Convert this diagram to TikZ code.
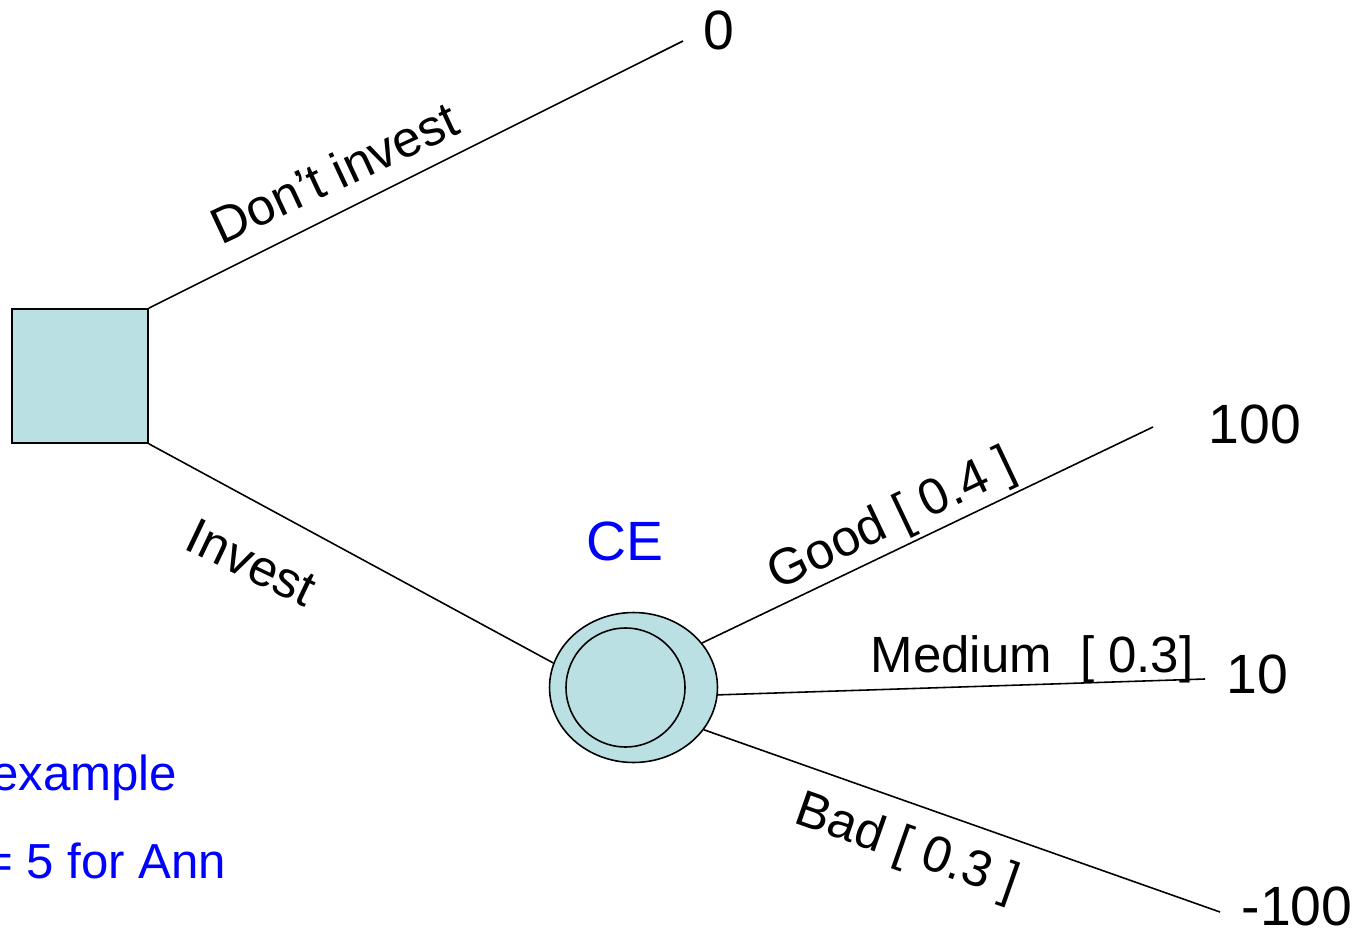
\documentclass[tikz,border=0pt]{standalone}
\usepackage{fontspec}
\setmainfont{Liberation Sans}
\usetikzlibrary{shapes.geometric}
\definecolor{nodefill}{RGB}{187,224,227}

\begin{document}
\begin{tikzpicture}[x=0.02cm,y=-0.02cm,line width=0.9pt,
    decision/.style={rectangle,draw,fill=nodefill,minimum width=2.72cm,minimum height=2.68cm,inner sep=0pt},
    chance/.style={ellipse,draw,fill=nodefill,minimum width=3.36cm,minimum height=3cm,inner sep=0pt},
    chanceinner/.style={circle,draw,minimum size=2.38cm,inner sep=0pt},
    branch/.style={font=\fontsize{29}{34}\selectfont,inner sep=0pt,anchor=base},
    payoff/.style={font=\fontsize{31.5}{38}\selectfont,inner sep=0pt,anchor=base},
    note/.style={text=blue,font=\fontsize{28}{34}\selectfont,inner sep=0pt}]
    \useasboundingbox (0,0) rectangle (1355,929);
    \clip (0,0) rectangle (1355,929);

    \node[decision] (dec) at (80,376) {};
    \node[chance] (ce) at (633.5,687.5) {};
    \node[chanceinner] (cein) at (625.5,687.5) {};
    \node[note,anchor=base,font=\fontsize{31.5}{38}\selectfont] (celbl) at (625,560) {CE};

    \coordinate (endno) at (683,41);
    \coordinate (endgood) at (1153,427);
    \coordinate (endmed) at (1205,679);
    \coordinate (endbad) at (1220,912);

    \node[payoff] (pno) at (719,50) {0};
    \node[payoff] (pgood) at (1255,443) {100};
    \node[payoff] (pmed) at (1257,693) {10};
    \node[payoff] (pbad) at (1297,925) {-100};

    \draw (dec.north east) -- (endno);
    \draw (dec.south east) -- (ce.163);
    \draw (ce.33) -- (endgood);
    \draw (ce.355) -- (endmed);
    \draw (ce.329) -- (endbad);

    \node[branch,rotate=25] (lno) at (342,189) {Don’t invest};
    \node[branch,rotate=-25.5] (linv) at (244,578) {Invest};
    \node[branch,rotate=25.4] (lgood) at (898,533) {Good [ 0.4 ]};
    \node[branch] (lmed) at (1032,672) {Medium\ \ [ 0.3]};
    \node[branch,rotate=-19.4] (lbad) at (902,861) {Bad [ 0.3 ]};

    \node[note,anchor=base east] (ex) at (178,790) {example};
    \node[note,anchor=base east] (ann) at (227,878) {= 5 for Ann};
\end{tikzpicture}
\end{document}
